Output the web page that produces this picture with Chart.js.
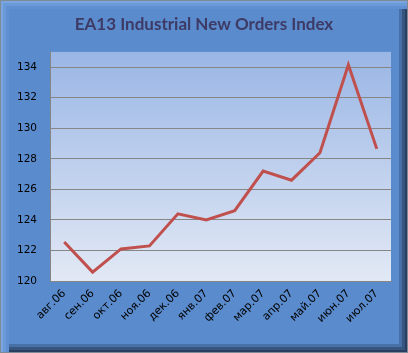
<!DOCTYPE html>
<html><head><meta charset="utf-8">
<script src="https://cdn.jsdelivr.net/npm/chart.js@4"></script>
<style>
html,body{margin:0;padding:0;background:#fff;}
#frame{position:absolute;left:0;top:0;width:406px;height:351px;border:1px solid #7f8a99;background:#5a8bcc;
box-shadow: inset 2px 2px 0 #7aa6e0, inset 5px 5px 0 #6b9ad8, inset 8px 8px 0 #6090d1,
 inset -2px -2px 0 #2a3f5f, inset -5px -5px 0 #36557f, inset -8px -8px 0 #4670a6;}
#c{position:absolute;left:0;top:0;}
</style></head><body>
<div id="frame"></div>
<canvas id="c" width="408" height="353"></canvas>
<script>
const categories = ["авг.06","сен.06","окт.06","ноя.06","дек.06","янв.07","фев.07","мар.07","апр.07","май.07","июн.07","июл.07"];
const values = [122.55, 120.58, 122.1, 122.3, 124.4, 124.0, 124.6, 127.2, 126.6, 128.4, 134.15, 128.65];
const titleText = "EA13 Industrial New Orders Index";
const yMin = 120, yMax = 135, yStep = 2;

const plotBg = {
  id:'plotBg',
  beforeDraw(chart){
    const {ctx, chartArea:a} = chart;
    const g = ctx.createLinearGradient(0,a.top,0,a.bottom);
    g.addColorStop(0,'#9ab6e5');
    g.addColorStop(1,'#e2e9f5');
    ctx.save(); ctx.fillStyle=g; ctx.fillRect(a.left,a.top,a.right-a.left,a.bottom-a.top); ctx.restore();
  }
};

new Chart(document.getElementById('c'),{
  type:'line',
  data:{labels:categories,datasets:[{data:values,borderColor:'#c0504d',borderWidth:3,pointRadius:0,tension:0,fill:false}]},
  options:{
    responsive:false,animation:false,
    layout:{padding:{left:0,right:0,top:0,bottom:0}},
    plugins:{legend:{display:false},tooltip:{enabled:false},
      title:{display:true,text:titleText,color:'#3e3a66',font:{family:'Lato',size:17,weight:'bold'},padding:{top:14,bottom:17.5}}},
    scales:{
      x:{offset:true,grid:{display:false,drawTicks:false},border:{display:true,color:'#868686',width:1},
        ticks:{color:'#000',font:{family:'DejaVu Sans',size:11},minRotation:45,maxRotation:45,padding:6,autoSkip:false},
        afterFit(s){s.height=72;}},
      y:{min:yMin,max:yMax,grid:{color:'#868686',lineWidth:1,drawTicks:false},border:{display:true,color:'#868686',width:1},
        ticks:{stepSize:yStep,includeBounds:false,color:'#000',font:{family:'DejaVu Sans',size:10.5},padding:13},
        afterFit(s){s.width=50;}},
      yR:{position:'right',min:yMin,max:yMax,grid:{display:false,drawTicks:false},border:{display:false},
        ticks:{display:false},afterFit(s){s.width=17;}}
    }
  },
  plugins:[plotBg]
});
</script>
</body></html>
